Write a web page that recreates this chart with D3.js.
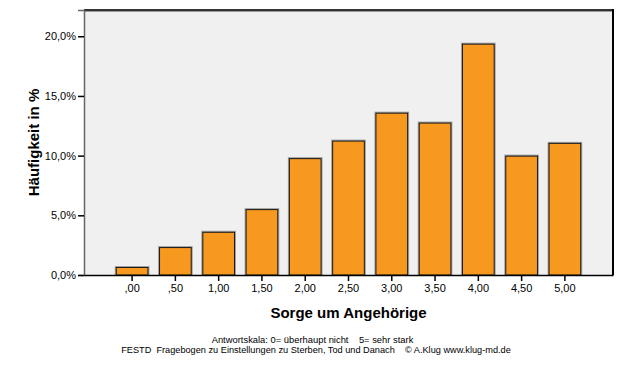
<!DOCTYPE html>
<html>
<head>
<meta charset="utf-8">
<script src="https://cdn.jsdelivr.net/npm/d3@7"></script>
<style>
  body { margin: 0; background: #fff; }
  text { font-family: "Liberation Sans", Arial, sans-serif; fill: #000; }
</style>
</head>
<body>
<div id="chart"></div>
<script>
var svgWidth = 626;
var svgHeight = 366;

var margin = { top: 10, right: 13, bottom: 91, left: 84 };
var width = svgWidth - margin.left - margin.right;
var height = svgHeight - margin.top - margin.bottom;

// data
var categories = [",00", ",50", "1,00", "1,50", "2,00", "2,50", "3,00", "3,50", "4,00", "4,50", "5,00"];
var percents = [0.67, 2.34, 3.62, 5.52, 9.79, 11.26, 13.6, 12.77, 19.38, 10.0, 11.07];
var yTicks = [0, 5, 10, 15, 20];

var svg = d3.select("#chart")
  .append("svg")
  .attr("width", svgWidth)
  .attr("height", svgHeight);

var chartGroup = svg.append("g")
  .attr("transform", `translate(${margin.left}, ${margin.top})`);

var xScale = d3.scaleBand()
  .domain(categories)
  .range([0, width])
  .paddingInner(0.245)
  .paddingOuter(0.734);

var yScale = d3.scaleLinear()
  .domain([0, 22.2])
  .range([height, 0]);

// plot background
chartGroup.append("rect")
  .attr("width", width)
  .attr("height", height)
  .attr("fill", "#f0f0f0");

// bars (with a faint shadow)
chartGroup.selectAll(".shadow")
  .data(percents)
  .enter()
  .append("rect")
  .attr("x", (d, i) => xScale(categories[i]) - 1)
  .attr("y", d => yScale(d) - 1)
  .attr("width", xScale.bandwidth() + 2)
  .attr("height", d => height - yScale(d) + 1)
  .attr("fill", "#a0a0a0");

chartGroup.selectAll(".bar")
  .data(percents)
  .enter()
  .append("rect")
  .attr("x", (d, i) => xScale(categories[i]) + 0.5)
  .attr("y", d => yScale(d) + 0.5)
  .attr("width", xScale.bandwidth() - 1)
  .attr("height", d => height - yScale(d) - 0.5)
  .attr("fill", "#f8991f")
  .attr("stroke", "#1a1a1a")
  .attr("stroke-width", 1);

// frame: top and right
chartGroup.append("line")
  .attr("x1", 0).attr("x2", width)
  .attr("y1", 0).attr("y2", 0)
  .attr("stroke", "#333").attr("stroke-width", 2);
chartGroup.append("line")
  .attr("x1", 0).attr("x2", width)
  .attr("y1", 1.5).attr("y2", 1.5)
  .attr("stroke", "#999").attr("stroke-width", 1);
chartGroup.append("line")
  .attr("x1", width).attr("x2", width)
  .attr("y1", -1).attr("y2", height)
  .attr("stroke", "#000").attr("stroke-width", 2);

// y axis
var leftAxis = d3.axisLeft(yScale)
  .tickValues(yTicks)
  .tickSize(6)
  .tickPadding(2)
  .tickFormat(d => d.toFixed(1).replace(".", ",") + "%");

var yAxis = chartGroup.append("g").call(leftAxis);
yAxis.select(".domain").attr("stroke", "#666").attr("stroke-width", 1.5);
yAxis.selectAll(".tick line").attr("stroke", "#000").attr("stroke-width", 1.5);
yAxis.selectAll("text").attr("font-size", "11px").attr("font-family", "Liberation Sans, Arial, sans-serif");

// x axis
var bottomAxis = d3.axisBottom(xScale).tickSize(6).tickPadding(3).tickSizeOuter(0);
var xAxis = chartGroup.append("g")
  .attr("transform", `translate(0, ${height})`)
  .call(bottomAxis);
xAxis.select(".domain").attr("stroke", "#000").attr("stroke-width", 1.5);
xAxis.selectAll(".tick line").attr("stroke", "#000").attr("stroke-width", 1.5);
xAxis.selectAll("text").attr("font-size", "11px").attr("font-family", "Liberation Sans, Arial, sans-serif");

// axis titles
svg.append("text")
  .attr("transform", `translate(39, ${margin.top + height / 2}) rotate(-90)`)
  .attr("text-anchor", "middle")
  .attr("font-size", "15px")
  .attr("font-weight", "bold")
  .text("Häufigkeit in %");

svg.append("text")
  .attr("x", margin.left + width / 2)
  .attr("y", 318)
  .attr("text-anchor", "middle")
  .attr("font-size", "15px")
  .attr("font-weight", "bold")
  .text("Sorge um Angehörige");

// footer
svg.append("text")
  .attr("x", 312.5)
  .attr("y", 343)
  .attr("text-anchor", "middle")
  .attr("font-size", "9.4px")
  .attr("xml:space", "preserve")
  .text("Antwortskala: 0= überhaupt nicht    5= sehr stark");

svg.append("text")
  .attr("x", 316)
  .attr("y", 353)
  .attr("text-anchor", "middle")
  .attr("font-size", "9.2px")
  .attr("xml:space", "preserve")
  .text("FESTD  Fragebogen zu Einstellungen zu Sterben, Tod und Danach    © A.Klug www.klug-md.de");
</script>
</body>
</html>
